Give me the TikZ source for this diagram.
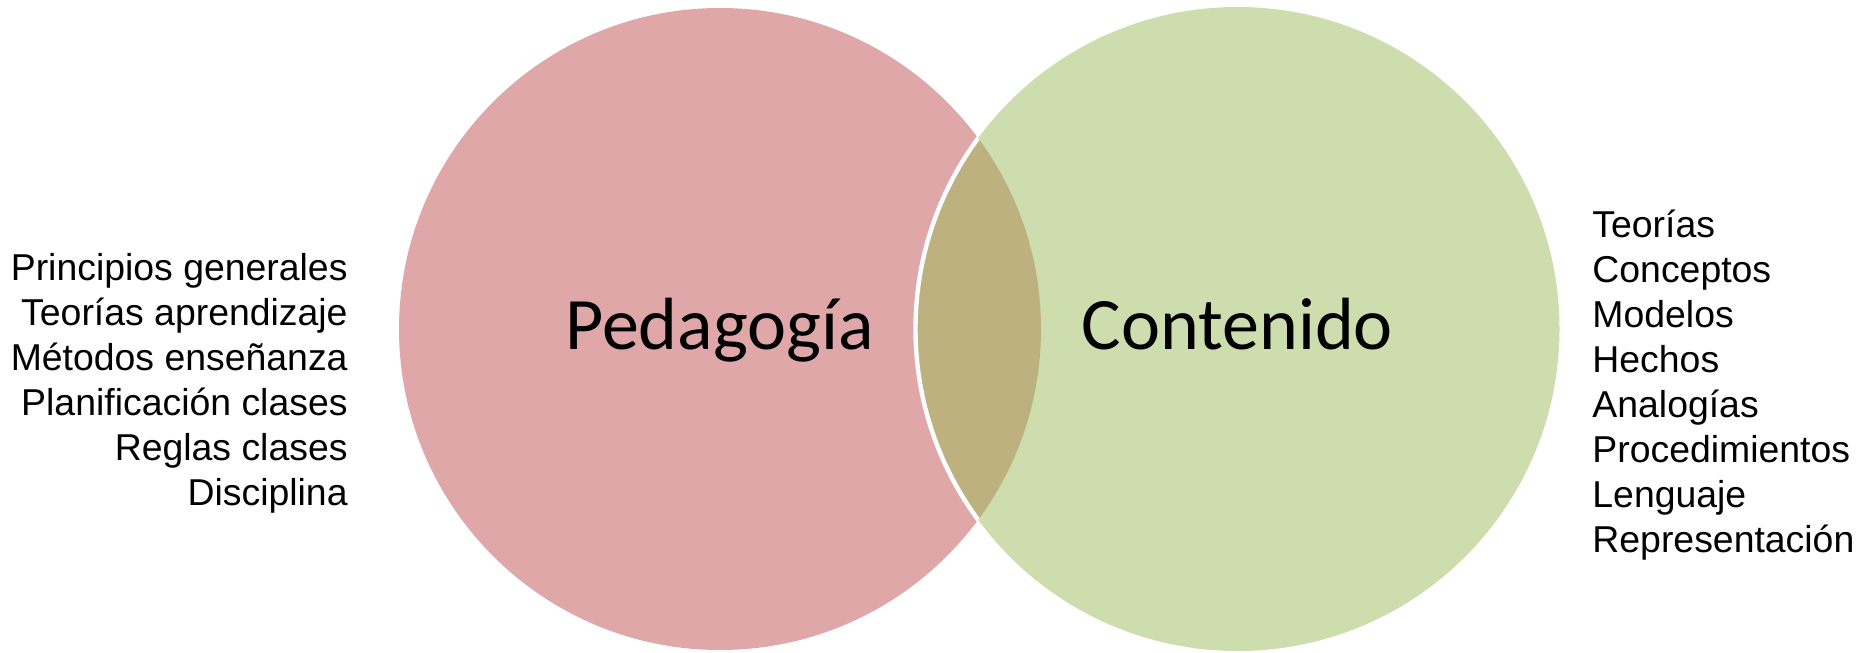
\documentclass[tikz,border=0pt]{standalone}
\usepackage{fontspec}
\setmainfont{Liberation Sans}
\newfontfamily\calfont{Carlito}
\definecolor{pedafill}{RGB}{223,167,167}
\definecolor{contfill}{RGB}{206,221,174}
\definecolor{lensfill}{RGB}{188,177,127}
\tikzset{
  listtext/.style={inner sep=0pt, font={\fontsize{18.7}{22.5}\selectfont}},
  bigtext/.style={inner sep=0pt, anchor=base, font={\calfont\fontsize{37}{40}\selectfont}},
}
\begin{document}
\begin{tikzpicture}[x=0.5pt,y=-0.5pt]
\useasboundingbox (0,0) rectangle (1864,653);
\coordinate (cl) at (720,329);
\coordinate (cr) at (1237.5,329);
\fill[pedafill] (cl) circle[radius=160.5pt];
\fill[contfill] (cr) circle[radius=161pt];
\begin{scope}
  \clip (cr) circle[radius=161pt];
  \fill[lensfill] (cl) circle[radius=160.5pt];
\end{scope}
\begin{scope}
  \clip (cl) circle[radius=160.5pt];
  \draw[white, line width=2.2pt] (cr) circle[radius=161pt];
\end{scope}
\node[bigtext] (peda) at (719.5,349) {Pedagogía};
\node[bigtext] (cont) at (1237.5,349) {Contenido};
\node[listtext, align=right, anchor=east] (left) at (348,383.5) {Principios generales\\Teorías aprendizaje\\Métodos enseñanza\\Planificación clases\\Reglas clases\\Disciplina};
\node[listtext, align=left, anchor=west] (right) at (1592,385) {Teorías\\Conceptos\\Modelos\\Hechos\\Analogías\\Procedimientos\\Lenguaje\\Representación};
\end{tikzpicture}
\end{document}
